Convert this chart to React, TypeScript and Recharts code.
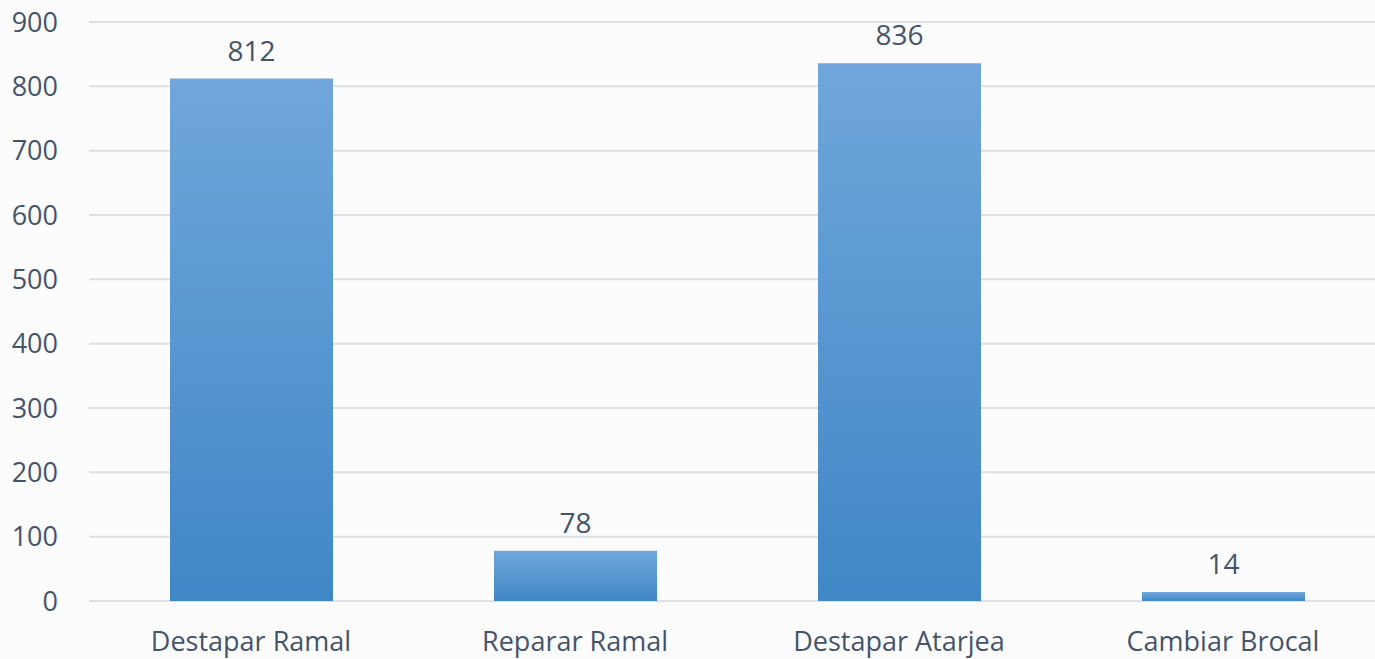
import { BarChart, Bar, XAxis, YAxis, CartesianGrid, LabelList } from "recharts";

const categories = ["Destapar Ramal", "Reparar Ramal", "Destapar Atarjea", "Cambiar Brocal"];
const values = [812, 78, 836, 14];
const yTicks = [0, 100, 200, 300, 400, 500, 600, 700, 800, 900];

const data = categories.map((name, i) => ({ name, value: values[i] }));

const textColor = "#44546a";
const font = "'Open Sans', sans-serif";

export default function App() {
  return (
    <div
      style={{
        position: "absolute",
        left: 0,
        top: 0,
        width: 1375,
        height: 659,
        overflow: "hidden",
        background: "#fcfcfd",
      }}
    >
      <BarChart
        width={1385}
        height={659}
        data={data}
        margin={{ top: 22, right: 0, bottom: 0, left: 0 }}
        barSize={163}
      >
        <defs>
          <linearGradient id="barFill" x1="0" y1="0" x2="0" y2="1">
            <stop offset="0%" stopColor="#70a6db" />
            <stop offset="100%" stopColor="#3f87c6" />
          </linearGradient>
        </defs>
        <CartesianGrid vertical={false} stroke="#dde1e7" strokeWidth={2} />
        <XAxis
          dataKey="name"
          axisLine={false}
          tickLine={false}
          height={58}
          tickMargin={25}
          tick={{ fill: textColor, fontSize: 27, fontFamily: font }}
        />
        <YAxis
          domain={[0, 900]}
          ticks={yTicks}
          axisLine={false}
          tickLine={false}
          width={89}
          tickMargin={25}
          interval={0}
          tick={{ fill: textColor, fontSize: 27, fontFamily: font }}
        />
        <Bar dataKey="value" fill="url(#barFill)" isAnimationActive={false}>
          <LabelList
            dataKey="value"
            position="top"
            offset={18}
            fill={textColor}
            fontSize={28}
            fontFamily={font}
          />
        </Bar>
      </BarChart>
    </div>
  );
}
